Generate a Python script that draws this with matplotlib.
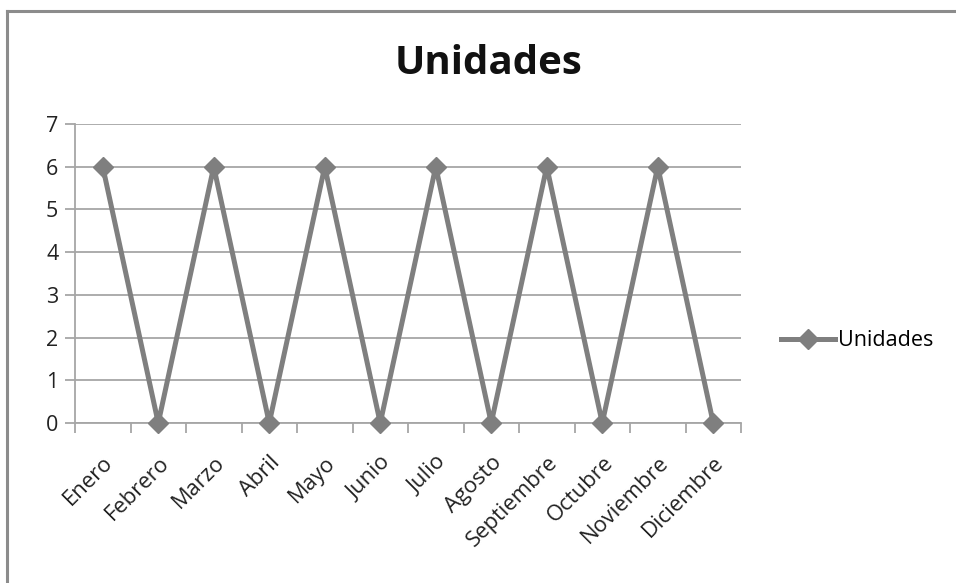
import matplotlib
matplotlib.use("Agg")
import matplotlib.pyplot as plt
from matplotlib.lines import Line2D
import numpy as np

MESES = ["Enero", "Febrero", "Marzo", "Abril", "Mayo", "Junio", "Julio",
         "Agosto", "Septiembre", "Octubre", "Noviembre", "Diciembre"]
UNIDADES = [6, 0, 6, 0, 6, 0, 6, 0, 6, 0, 6, 0]
Y_TICKS = [0, 1, 2, 3, 4, 5, 6, 7]

LINE = "#7f7f7f"
GRID = "#a6a6a6"
plt.rcParams["font.family"] = ["Open Sans", "DejaVu Sans"]

fig = plt.figure(figsize=(9.56, 5.83), dpi=100)
ax = fig.add_axes([75 / 956, 1 - 423 / 583, (741 - 75) / 956, (423 - 124) / 583])

x = np.arange(len(MESES))
ax.plot(x, UNIDADES, color=LINE, lw=3.6, marker="D", ms=10, mfc=LINE, mec=LINE,
        clip_on=False, zorder=3, label="Unidades")

ax.set_xlim(-0.5, len(MESES) - 0.5)
ax.set_ylim(0, 7)
ax.set_yticks(Y_TICKS)
ax.yaxis.grid(True, color=GRID, lw=1.3)
ax.set_axisbelow(True)
ax.set_xticks(x)
ax.set_xticklabels(MESES, rotation=45, ha="right", rotation_mode="anchor")
ax.set_xticks(np.arange(-0.5, len(MESES), 1), minor=True)
ax.tick_params(axis="x", which="major", length=0, pad=21, labelsize=15.8, colors="#222222")
ax.tick_params(axis="x", which="minor", length=7, width=1.3, color=GRID, direction="out")
ax.tick_params(axis="y", length=7, width=1.3, color=GRID, labelsize=15.5,
               labelcolor="#222222", pad=5)
for s in ["top", "right"]:
    ax.spines[s].set_visible(False)
for s in ["left", "bottom"]:
    ax.spines[s].set_color(GRID)
    ax.spines[s].set_linewidth(1.3)

fig.text(488 / 956, 1 - 64 / 583, "Unidades", ha="center", va="center",
         fontsize=29, fontweight="bold", color="#111111")

handle = Line2D([], [], color=LINE, lw=3.6, marker="D", ms=10, mfc=LINE, mec=LINE)
fig.legend([handle], ["Unidades"], loc="center left",
           bbox_to_anchor=(781 / 956, 1 - 341 / 583), frameon=False,
           borderpad=0, borderaxespad=0, fontsize=15.5,
           handlelength=2.5, handletextpad=0.15)

# chart-area frame (only left and top edges are visible in the reference)
fig.add_artist(Line2D([7 / 956, 7 / 956], [0, 1 - 11 / 583], color="#8c8c8c", lw=2.2,
                      transform=fig.transFigure))
fig.add_artist(Line2D([7 / 956, 1], [1 - 11 / 583, 1 - 11 / 583], color="#8c8c8c", lw=2.2,
                      transform=fig.transFigure))

fig.savefig("out.png", dpi=100)
